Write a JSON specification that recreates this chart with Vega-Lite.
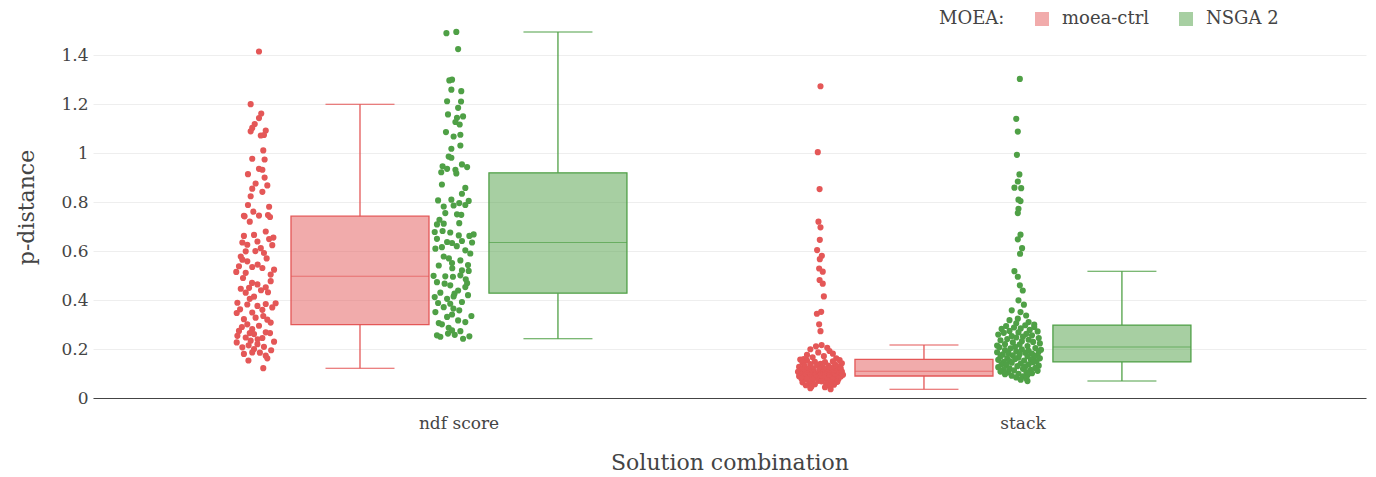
{
"$schema": "https://vega.github.io/schema/vega-lite/v6.json",
"width": 1273, "height": 382,
"autosize": {"type": "none"},
"padding": {"left": 93, "top": 16, "right": 10, "bottom": 79},
"background": "white",
"config": {"font": "DejaVu Serif", "view": {"stroke": null}, "circle": {"opacity": 1}},
"datasets": {"pts": [
{"c":"ndf score","m":"moea-ctrl","v":1.415,"j":0.11},{"c":"ndf score","m":"moea-ctrl","v":1.2,"j":-0.26},{"c":"ndf score","m":"moea-ctrl","v":1.162,"j":0.21},{"c":"ndf score","m":"moea-ctrl","v":1.143,"j":0.11},{"c":"ndf score","m":"moea-ctrl","v":1.119,"j":-0.08},{"c":"ndf score","m":"moea-ctrl","v":1.103,"j":-0.19},{"c":"ndf score","m":"moea-ctrl","v":1.089,"j":-0.26},{"c":"ndf score","m":"moea-ctrl","v":1.092,"j":0.41},{"c":"ndf score","m":"moea-ctrl","v":1.072,"j":0.19},{"c":"ndf score","m":"moea-ctrl","v":1.074,"j":0.33},
{"c":"ndf score","m":"moea-ctrl","v":1.011,"j":0.3},{"c":"ndf score","m":"moea-ctrl","v":0.977,"j":-0.19},{"c":"ndf score","m":"moea-ctrl","v":0.974,"j":0.36},{"c":"ndf score","m":"moea-ctrl","v":0.936,"j":0.11},{"c":"ndf score","m":"moea-ctrl","v":0.932,"j":0.26},{"c":"ndf score","m":"moea-ctrl","v":0.914,"j":-0.38},{"c":"ndf score","m":"moea-ctrl","v":0.9,"j":0.36},{"c":"ndf score","m":"moea-ctrl","v":0.876,"j":-0.04},{"c":"ndf score","m":"moea-ctrl","v":0.868,"j":0.48},{"c":"ndf score","m":"moea-ctrl","v":0.855,"j":-0.19},
{"c":"ndf score","m":"moea-ctrl","v":0.842,"j":0.26},{"c":"ndf score","m":"moea-ctrl","v":0.824,"j":-0.26},{"c":"ndf score","m":"moea-ctrl","v":0.788,"j":-0.38},{"c":"ndf score","m":"moea-ctrl","v":0.781,"j":0.56},{"c":"ndf score","m":"moea-ctrl","v":0.761,"j":-0.14},{"c":"ndf score","m":"moea-ctrl","v":0.747,"j":0.51},{"c":"ndf score","m":"moea-ctrl","v":0.745,"j":0.11},{"c":"ndf score","m":"moea-ctrl","v":0.744,"j":-0.56},{"c":"ndf score","m":"moea-ctrl","v":0.742,"j":-0.53},{"c":"ndf score","m":"moea-ctrl","v":0.739,"j":0.6},
{"c":"ndf score","m":"moea-ctrl","v":0.72,"j":-0.3},{"c":"ndf score","m":"moea-ctrl","v":0.68,"j":0.41},{"c":"ndf score","m":"moea-ctrl","v":0.666,"j":-0.11},{"c":"ndf score","m":"moea-ctrl","v":0.662,"j":-0.56},{"c":"ndf score","m":"moea-ctrl","v":0.655,"j":0.75},{"c":"ndf score","m":"moea-ctrl","v":0.649,"j":0.56},{"c":"ndf score","m":"moea-ctrl","v":0.639,"j":0.04},{"c":"ndf score","m":"moea-ctrl","v":0.635,"j":-0.63},{"c":"ndf score","m":"moea-ctrl","v":0.626,"j":-0.41},{"c":"ndf score","m":"moea-ctrl","v":0.624,"j":0.7},
{"c":"ndf score","m":"moea-ctrl","v":0.612,"j":0.19},{"c":"ndf score","m":"moea-ctrl","v":0.6,"j":-0.05},{"c":"ndf score","m":"moea-ctrl","v":0.599,"j":-0.48},{"c":"ndf score","m":"moea-ctrl","v":0.592,"j":0.33},{"c":"ndf score","m":"moea-ctrl","v":0.578,"j":-0.7},{"c":"ndf score","m":"moea-ctrl","v":0.57,"j":0.45},{"c":"ndf score","m":"moea-ctrl","v":0.565,"j":-0.63},{"c":"ndf score","m":"moea-ctrl","v":0.558,"j":-0.41},{"c":"ndf score","m":"moea-ctrl","v":0.545,"j":0.05},{"c":"ndf score","m":"moea-ctrl","v":0.538,"j":-0.78},
{"c":"ndf score","m":"moea-ctrl","v":0.535,"j":-0.19},{"c":"ndf score","m":"moea-ctrl","v":0.531,"j":0.26},{"c":"ndf score","m":"moea-ctrl","v":0.524,"j":0.78},{"c":"ndf score","m":"moea-ctrl","v":0.515,"j":-0.9},{"c":"ndf score","m":"moea-ctrl","v":0.511,"j":-0.48},{"c":"ndf score","m":"moea-ctrl","v":0.504,"j":0.63},{"c":"ndf score","m":"moea-ctrl","v":0.49,"j":-0.6},{"c":"ndf score","m":"moea-ctrl","v":0.477,"j":0.63},{"c":"ndf score","m":"moea-ctrl","v":0.47,"j":-0.2},{"c":"ndf score","m":"moea-ctrl","v":0.464,"j":0.04},
{"c":"ndf score","m":"moea-ctrl","v":0.452,"j":0.41},{"c":"ndf score","m":"moea-ctrl","v":0.45,"j":-0.33},{"c":"ndf score","m":"moea-ctrl","v":0.446,"j":-0.7},{"c":"ndf score","m":"moea-ctrl","v":0.44,"j":0.2},{"c":"ndf score","m":"moea-ctrl","v":0.432,"j":0.51},{"c":"ndf score","m":"moea-ctrl","v":0.43,"j":-0.48},{"c":"ndf score","m":"moea-ctrl","v":0.414,"j":-0.11},{"c":"ndf score","m":"moea-ctrl","v":0.405,"j":-0.3},{"c":"ndf score","m":"moea-ctrl","v":0.389,"j":-0.85},{"c":"ndf score","m":"moea-ctrl","v":0.387,"j":0.85},
{"c":"ndf score","m":"moea-ctrl","v":0.384,"j":0.41},{"c":"ndf score","m":"moea-ctrl","v":0.382,"j":-0.41},{"c":"ndf score","m":"moea-ctrl","v":0.376,"j":0.04},{"c":"ndf score","m":"moea-ctrl","v":0.37,"j":0.7},{"c":"ndf score","m":"moea-ctrl","v":0.362,"j":-0.73},{"c":"ndf score","m":"moea-ctrl","v":0.36,"j":0.26},{"c":"ndf score","m":"moea-ctrl","v":0.349,"j":-0.19},{"c":"ndf score","m":"moea-ctrl","v":0.347,"j":-0.88},{"c":"ndf score","m":"moea-ctrl","v":0.335,"j":0.3},{"c":"ndf score","m":"moea-ctrl","v":0.328,"j":-0.04},
{"c":"ndf score","m":"moea-ctrl","v":0.322,"j":-0.56},{"c":"ndf score","m":"moea-ctrl","v":0.32,"j":0.48},{"c":"ndf score","m":"moea-ctrl","v":0.308,"j":0.63},{"c":"ndf score","m":"moea-ctrl","v":0.301,"j":-0.41},{"c":"ndf score","m":"moea-ctrl","v":0.295,"j":0.11},{"c":"ndf score","m":"moea-ctrl","v":0.29,"j":-0.65},{"c":"ndf score","m":"moea-ctrl","v":0.281,"j":-0.19},{"c":"ndf score","m":"moea-ctrl","v":0.274,"j":-0.78},{"c":"ndf score","m":"moea-ctrl","v":0.268,"j":0.41},{"c":"ndf score","m":"moea-ctrl","v":0.265,"j":0.6},
{"c":"ndf score","m":"moea-ctrl","v":0.265,"j":-0.3},{"c":"ndf score","m":"moea-ctrl","v":0.261,"j":-0.11},{"c":"ndf score","m":"moea-ctrl","v":0.254,"j":-0.85},{"c":"ndf score","m":"moea-ctrl","v":0.247,"j":-0.48},{"c":"ndf score","m":"moea-ctrl","v":0.245,"j":0.26},{"c":"ndf score","m":"moea-ctrl","v":0.24,"j":0.05},{"c":"ndf score","m":"moea-ctrl","v":0.234,"j":-0.26},{"c":"ndf score","m":"moea-ctrl","v":0.23,"j":0.78},{"c":"ndf score","m":"moea-ctrl","v":0.227,"j":-0.88},{"c":"ndf score","m":"moea-ctrl","v":0.22,"j":0.04},
{"c":"ndf score","m":"moea-ctrl","v":0.215,"j":-0.35},{"c":"ndf score","m":"moea-ctrl","v":0.209,"j":0.33},{"c":"ndf score","m":"moea-ctrl","v":0.207,"j":-0.63},{"c":"ndf score","m":"moea-ctrl","v":0.2,"j":-0.11},{"c":"ndf score","m":"moea-ctrl","v":0.195,"j":0.65},{"c":"ndf score","m":"moea-ctrl","v":0.186,"j":-0.19},{"c":"ndf score","m":"moea-ctrl","v":0.185,"j":0.15},{"c":"ndf score","m":"moea-ctrl","v":0.18,"j":-0.56},{"c":"ndf score","m":"moea-ctrl","v":0.173,"j":0.41},{"c":"ndf score","m":"moea-ctrl","v":0.162,"j":0.48},
{"c":"ndf score","m":"moea-ctrl","v":0.153,"j":-0.36},{"c":"ndf score","m":"moea-ctrl","v":0.122,"j":0.3},
{"c":"ndf score","m":"NSGA 2","v":1.495,"j":0.08},{"c":"ndf score","m":"NSGA 2","v":1.49,"j":-0.36},{"c":"ndf score","m":"NSGA 2","v":1.425,"j":0.16},{"c":"ndf score","m":"NSGA 2","v":1.3,"j":-0.11},{"c":"ndf score","m":"NSGA 2","v":1.297,"j":-0.23},{"c":"ndf score","m":"NSGA 2","v":1.259,"j":-0.14},{"c":"ndf score","m":"NSGA 2","v":1.253,"j":0.3},{"c":"ndf score","m":"NSGA 2","v":1.212,"j":-0.33},{"c":"ndf score","m":"NSGA 2","v":1.211,"j":0.29},{"c":"ndf score","m":"NSGA 2","v":1.185,"j":0.16},
{"c":"ndf score","m":"NSGA 2","v":1.158,"j":-0.29},{"c":"ndf score","m":"NSGA 2","v":1.15,"j":0.38},{"c":"ndf score","m":"NSGA 2","v":1.144,"j":0.11},{"c":"ndf score","m":"NSGA 2","v":1.127,"j":0.04},{"c":"ndf score","m":"NSGA 2","v":1.117,"j":0.23},{"c":"ndf score","m":"NSGA 2","v":1.086,"j":-0.38},{"c":"ndf score","m":"NSGA 2","v":1.075,"j":0.26},{"c":"ndf score","m":"NSGA 2","v":1.068,"j":-0.04},{"c":"ndf score","m":"NSGA 2","v":1.031,"j":0.26},{"c":"ndf score","m":"NSGA 2","v":1.018,"j":-0.14},
{"c":"ndf score","m":"NSGA 2","v":0.986,"j":-0.26},{"c":"ndf score","m":"NSGA 2","v":0.981,"j":-0.14},{"c":"ndf score","m":"NSGA 2","v":0.954,"j":0.33},{"c":"ndf score","m":"NSGA 2","v":0.946,"j":-0.53},{"c":"ndf score","m":"NSGA 2","v":0.943,"j":0.56},{"c":"ndf score","m":"NSGA 2","v":0.936,"j":-0.33},{"c":"ndf score","m":"NSGA 2","v":0.932,"j":0.04},{"c":"ndf score","m":"NSGA 2","v":0.922,"j":-0.59},{"c":"ndf score","m":"NSGA 2","v":0.917,"j":0.08},{"c":"ndf score","m":"NSGA 2","v":0.872,"j":-0.56},
{"c":"ndf score","m":"NSGA 2","v":0.858,"j":0.48},{"c":"ndf score","m":"NSGA 2","v":0.834,"j":0.33},{"c":"ndf score","m":"NSGA 2","v":0.81,"j":-0.14},{"c":"ndf score","m":"NSGA 2","v":0.807,"j":-0.73},{"c":"ndf score","m":"NSGA 2","v":0.805,"j":0.63},{"c":"ndf score","m":"NSGA 2","v":0.796,"j":0.21},{"c":"ndf score","m":"NSGA 2","v":0.788,"j":0.48},{"c":"ndf score","m":"NSGA 2","v":0.786,"j":-0.04},{"c":"ndf score","m":"NSGA 2","v":0.782,"j":-0.48},{"c":"ndf score","m":"NSGA 2","v":0.755,"j":-0.41},
{"c":"ndf score","m":"NSGA 2","v":0.75,"j":0.11},{"c":"ndf score","m":"NSGA 2","v":0.748,"j":0.3},{"c":"ndf score","m":"NSGA 2","v":0.728,"j":-0.67},{"c":"ndf score","m":"NSGA 2","v":0.714,"j":0.21},{"c":"ndf score","m":"NSGA 2","v":0.712,"j":-0.48},{"c":"ndf score","m":"NSGA 2","v":0.709,"j":-0.78},{"c":"ndf score","m":"NSGA 2","v":0.682,"j":-0.53},{"c":"ndf score","m":"NSGA 2","v":0.678,"j":-0.88},{"c":"ndf score","m":"NSGA 2","v":0.676,"j":-0.19},{"c":"ndf score","m":"NSGA 2","v":0.668,"j":0.85},
{"c":"ndf score","m":"NSGA 2","v":0.664,"j":0.19},{"c":"ndf score","m":"NSGA 2","v":0.662,"j":0.66},{"c":"ndf score","m":"NSGA 2","v":0.65,"j":-0.78},{"c":"ndf score","m":"NSGA 2","v":0.641,"j":0.33},{"c":"ndf score","m":"NSGA 2","v":0.637,"j":-0.33},{"c":"ndf score","m":"NSGA 2","v":0.635,"j":0.78},{"c":"ndf score","m":"NSGA 2","v":0.633,"j":-0.11},{"c":"ndf score","m":"NSGA 2","v":0.62,"j":0.1},{"c":"ndf score","m":"NSGA 2","v":0.616,"j":-0.56},{"c":"ndf score","m":"NSGA 2","v":0.61,"j":-0.85},
{"c":"ndf score","m":"NSGA 2","v":0.603,"j":0.48},{"c":"ndf score","m":"NSGA 2","v":0.59,"j":0.7},{"c":"ndf score","m":"NSGA 2","v":0.578,"j":-0.48},{"c":"ndf score","m":"NSGA 2","v":0.57,"j":-0.25},{"c":"ndf score","m":"NSGA 2","v":0.562,"j":0.26},{"c":"ndf score","m":"NSGA 2","v":0.551,"j":-0.11},{"c":"ndf score","m":"NSGA 2","v":0.543,"j":0.6},{"c":"ndf score","m":"NSGA 2","v":0.541,"j":-0.7},{"c":"ndf score","m":"NSGA 2","v":0.53,"j":-0.1},{"c":"ndf score","m":"NSGA 2","v":0.521,"j":0.33},
{"c":"ndf score","m":"NSGA 2","v":0.519,"j":0.63},{"c":"ndf score","m":"NSGA 2","v":0.501,"j":0.26},{"c":"ndf score","m":"NSGA 2","v":0.499,"j":-0.93},{"c":"ndf score","m":"NSGA 2","v":0.497,"j":-0.41},{"c":"ndf score","m":"NSGA 2","v":0.495,"j":-0.07},{"c":"ndf score","m":"NSGA 2","v":0.485,"j":0.5},{"c":"ndf score","m":"NSGA 2","v":0.473,"j":-0.78},{"c":"ndf score","m":"NSGA 2","v":0.469,"j":0.56},{"c":"ndf score","m":"NSGA 2","v":0.467,"j":-0.44},{"c":"ndf score","m":"NSGA 2","v":0.46,"j":-0.19},
{"c":"ndf score","m":"NSGA 2","v":0.453,"j":0.48},{"c":"ndf score","m":"NSGA 2","v":0.426,"j":0.0},{"c":"ndf score","m":"NSGA 2","v":0.43,"j":-0.63},{"c":"ndf score","m":"NSGA 2","v":0.439,"j":0.16},{"c":"ndf score","m":"NSGA 2","v":0.42,"j":0.6},{"c":"ndf score","m":"NSGA 2","v":0.415,"j":-0.04},{"c":"ndf score","m":"NSGA 2","v":0.412,"j":-0.88},{"c":"ndf score","m":"NSGA 2","v":0.405,"j":-0.33},{"c":"ndf score","m":"NSGA 2","v":0.392,"j":0.33},{"c":"ndf score","m":"NSGA 2","v":0.388,"j":-0.73},
{"c":"ndf score","m":"NSGA 2","v":0.385,"j":-0.19},{"c":"ndf score","m":"NSGA 2","v":0.371,"j":-0.48},{"c":"ndf score","m":"NSGA 2","v":0.365,"j":-0.05},{"c":"ndf score","m":"NSGA 2","v":0.358,"j":0.21},{"c":"ndf score","m":"NSGA 2","v":0.351,"j":-0.85},{"c":"ndf score","m":"NSGA 2","v":0.341,"j":-0.11},{"c":"ndf score","m":"NSGA 2","v":0.335,"j":0.75},{"c":"ndf score","m":"NSGA 2","v":0.331,"j":-0.33},{"c":"ndf score","m":"NSGA 2","v":0.317,"j":0.16},{"c":"ndf score","m":"NSGA 2","v":0.31,"j":0.48},
{"c":"ndf score","m":"NSGA 2","v":0.306,"j":-0.7},{"c":"ndf score","m":"NSGA 2","v":0.301,"j":-0.56},{"c":"ndf score","m":"NSGA 2","v":0.287,"j":-0.26},{"c":"ndf score","m":"NSGA 2","v":0.276,"j":-0.11},{"c":"ndf score","m":"NSGA 2","v":0.273,"j":0.26},{"c":"ndf score","m":"NSGA 2","v":0.263,"j":-0.29},{"c":"ndf score","m":"NSGA 2","v":0.258,"j":0.01},{"c":"ndf score","m":"NSGA 2","v":0.256,"j":-0.78},{"c":"ndf score","m":"NSGA 2","v":0.252,"j":0.66},{"c":"ndf score","m":"NSGA 2","v":0.25,"j":-0.63},
{"c":"ndf score","m":"NSGA 2","v":0.242,"j":0.38},
{"c":"stack","m":"moea-ctrl","v":1.273,"j":0.0},{"c":"stack","m":"moea-ctrl","v":1.004,"j":-0.12},{"c":"stack","m":"moea-ctrl","v":0.853,"j":-0.04},{"c":"stack","m":"moea-ctrl","v":0.72,"j":-0.09},{"c":"stack","m":"moea-ctrl","v":0.697,"j":0.0},{"c":"stack","m":"moea-ctrl","v":0.646,"j":-0.03},{"c":"stack","m":"moea-ctrl","v":0.604,"j":-0.15},{"c":"stack","m":"moea-ctrl","v":0.581,"j":0.06},{"c":"stack","m":"moea-ctrl","v":0.567,"j":-0.03},{"c":"stack","m":"moea-ctrl","v":0.529,"j":-0.06},
{"c":"stack","m":"moea-ctrl","v":0.516,"j":0.1},{"c":"stack","m":"moea-ctrl","v":0.482,"j":-0.04},{"c":"stack","m":"moea-ctrl","v":0.467,"j":0.1},{"c":"stack","m":"moea-ctrl","v":0.415,"j":0.15},{"c":"stack","m":"moea-ctrl","v":0.352,"j":0.03},{"c":"stack","m":"moea-ctrl","v":0.344,"j":-0.16},{"c":"stack","m":"moea-ctrl","v":0.301,"j":-0.06},{"c":"stack","m":"moea-ctrl","v":0.273,"j":0.0},
{"c":"stack","m":"moea-ctrl","v":0.216,"j":0.05},{"c":"stack","m":"moea-ctrl","v":0.211,"j":-0.2},{"c":"stack","m":"moea-ctrl","v":0.205,"j":0.3},{"c":"stack","m":"moea-ctrl","v":0.199,"j":-0.45},{"c":"stack","m":"moea-ctrl","v":0.192,"j":0.4},{"c":"stack","m":"moea-ctrl","v":0.186,"j":-0.1},{"c":"stack","m":"moea-ctrl","v":0.181,"j":0.55},{"c":"stack","m":"moea-ctrl","v":0.176,"j":-0.6},{"c":"stack","m":"moea-ctrl","v":0.171,"j":0.15},{"c":"stack","m":"moea-ctrl","v":0.166,"j":-0.35},
{"c":"stack","m":"moea-ctrl","v":0.162,"j":0.7},{"c":"stack","m":"moea-ctrl","v":0.159,"j":-0.75},
{"c":"stack","m":"moea-ctrl","v":0.157,"j":-0.9},{"c":"stack","m":"moea-ctrl","v":0.155,"j":0.85},{"c":"stack","m":"moea-ctrl","v":0.153,"j":-0.6},{"c":"stack","m":"moea-ctrl","v":0.15,"j":0.55},{"c":"stack","m":"moea-ctrl","v":0.148,"j":-0.25},{"c":"stack","m":"moea-ctrl","v":0.147,"j":0.2},{"c":"stack","m":"moea-ctrl","v":0.145,"j":-0.8},{"c":"stack","m":"moea-ctrl","v":0.142,"j":0.95},{"c":"stack","m":"moea-ctrl","v":0.14,"j":0.0},{"c":"stack","m":"moea-ctrl","v":0.139,"j":-0.45},
{"c":"stack","m":"moea-ctrl","v":0.137,"j":0.65},{"c":"stack","m":"moea-ctrl","v":0.134,"j":-0.15},{"c":"stack","m":"moea-ctrl","v":0.132,"j":0.35},{"c":"stack","m":"moea-ctrl","v":0.131,"j":-0.7},{"c":"stack","m":"moea-ctrl","v":0.129,"j":0.8},{"c":"stack","m":"moea-ctrl","v":0.127,"j":-0.95},{"c":"stack","m":"moea-ctrl","v":0.125,"j":0.1},{"c":"stack","m":"moea-ctrl","v":0.124,"j":0.45},{"c":"stack","m":"moea-ctrl","v":0.122,"j":-0.35},{"c":"stack","m":"moea-ctrl","v":0.121,"j":0.9},
{"c":"stack","m":"moea-ctrl","v":0.119,"j":-0.55},{"c":"stack","m":"moea-ctrl","v":0.118,"j":0.25},{"c":"stack","m":"moea-ctrl","v":0.117,"j":-0.05},{"c":"stack","m":"moea-ctrl","v":0.116,"j":0.6},{"c":"stack","m":"moea-ctrl","v":0.115,"j":-0.85},{"c":"stack","m":"moea-ctrl","v":0.114,"j":0.4},{"c":"stack","m":"moea-ctrl","v":0.113,"j":-0.3},{"c":"stack","m":"moea-ctrl","v":0.112,"j":0.75},{"c":"stack","m":"moea-ctrl","v":0.111,"j":-0.65},{"c":"stack","m":"moea-ctrl","v":0.11,"j":0.15},
{"c":"stack","m":"moea-ctrl","v":0.108,"j":0.95},{"c":"stack","m":"moea-ctrl","v":0.107,"j":-1.0},{"c":"stack","m":"moea-ctrl","v":0.107,"j":0.7},{"c":"stack","m":"moea-ctrl","v":0.106,"j":-0.75},{"c":"stack","m":"moea-ctrl","v":0.105,"j":0.5},{"c":"stack","m":"moea-ctrl","v":0.105,"j":-0.5},{"c":"stack","m":"moea-ctrl","v":0.104,"j":0.3},{"c":"stack","m":"moea-ctrl","v":0.103,"j":-0.3},{"c":"stack","m":"moea-ctrl","v":0.103,"j":0.1},{"c":"stack","m":"moea-ctrl","v":0.102,"j":-0.1},
{"c":"stack","m":"moea-ctrl","v":0.101,"j":0.85},{"c":"stack","m":"moea-ctrl","v":0.1,"j":-0.9},{"c":"stack","m":"moea-ctrl","v":0.1,"j":0.6},{"c":"stack","m":"moea-ctrl","v":0.099,"j":-0.6},{"c":"stack","m":"moea-ctrl","v":0.099,"j":0.4},{"c":"stack","m":"moea-ctrl","v":0.098,"j":-0.4},{"c":"stack","m":"moea-ctrl","v":0.097,"j":0.2},{"c":"stack","m":"moea-ctrl","v":0.097,"j":-0.2},{"c":"stack","m":"moea-ctrl","v":0.096,"j":0.0},{"c":"stack","m":"moea-ctrl","v":0.095,"j":1.0},
{"c":"stack","m":"moea-ctrl","v":0.095,"j":-0.85},{"c":"stack","m":"moea-ctrl","v":0.094,"j":0.75},{"c":"stack","m":"moea-ctrl","v":0.094,"j":-0.7},{"c":"stack","m":"moea-ctrl","v":0.093,"j":0.55},{"c":"stack","m":"moea-ctrl","v":0.093,"j":-0.45},{"c":"stack","m":"moea-ctrl","v":0.092,"j":0.35},{"c":"stack","m":"moea-ctrl","v":0.092,"j":-0.25},{"c":"stack","m":"moea-ctrl","v":0.091,"j":0.15},{"c":"stack","m":"moea-ctrl","v":0.091,"j":-0.05},{"c":"stack","m":"moea-ctrl","v":0.09,"j":0.9},
{"c":"stack","m":"moea-ctrl","v":0.089,"j":-0.95},{"c":"stack","m":"moea-ctrl","v":0.088,"j":0.9},{"c":"stack","m":"moea-ctrl","v":0.087,"j":-0.7},{"c":"stack","m":"moea-ctrl","v":0.086,"j":0.65},{"c":"stack","m":"moea-ctrl","v":0.085,"j":-0.45},{"c":"stack","m":"moea-ctrl","v":0.084,"j":0.4},{"c":"stack","m":"moea-ctrl","v":0.083,"j":-0.2},{"c":"stack","m":"moea-ctrl","v":0.082,"j":0.15},{"c":"stack","m":"moea-ctrl","v":0.081,"j":0.0},{"c":"stack","m":"moea-ctrl","v":0.08,"j":-0.85},
{"c":"stack","m":"moea-ctrl","v":0.078,"j":0.8},{"c":"stack","m":"moea-ctrl","v":0.077,"j":-0.6},{"c":"stack","m":"moea-ctrl","v":0.075,"j":0.55},{"c":"stack","m":"moea-ctrl","v":0.074,"j":-0.35},{"c":"stack","m":"moea-ctrl","v":0.072,"j":0.3},{"c":"stack","m":"moea-ctrl","v":0.07,"j":-0.1},{"c":"stack","m":"moea-ctrl","v":0.068,"j":0.05},{"c":"stack","m":"moea-ctrl","v":0.066,"j":0.75},{"c":"stack","m":"moea-ctrl","v":0.064,"j":-0.8},{"c":"stack","m":"moea-ctrl","v":0.062,"j":0.5},
{"c":"stack","m":"moea-ctrl","v":0.06,"j":-0.5},{"c":"stack","m":"moea-ctrl","v":0.058,"j":0.25},{"c":"stack","m":"moea-ctrl","v":0.056,"j":-0.25},{"c":"stack","m":"moea-ctrl","v":0.054,"j":0.6},{"c":"stack","m":"moea-ctrl","v":0.052,"j":-0.65},{"c":"stack","m":"moea-ctrl","v":0.05,"j":0.45},{"c":"stack","m":"moea-ctrl","v":0.047,"j":-0.4},{"c":"stack","m":"moea-ctrl","v":0.044,"j":0.2},{"c":"stack","m":"moea-ctrl","v":0.04,"j":-0.45},{"c":"stack","m":"moea-ctrl","v":0.036,"j":0.45},
{"c":"stack","m":"NSGA 2","v":1.303,"j":0.06},{"c":"stack","m":"NSGA 2","v":1.14,"j":-0.1},{"c":"stack","m":"NSGA 2","v":1.088,"j":-0.03},{"c":"stack","m":"NSGA 2","v":0.993,"j":-0.07},{"c":"stack","m":"NSGA 2","v":0.913,"j":0.04},{"c":"stack","m":"NSGA 2","v":0.884,"j":-0.03},{"c":"stack","m":"NSGA 2","v":0.859,"j":-0.18},{"c":"stack","m":"NSGA 2","v":0.857,"j":0.12},{"c":"stack","m":"NSGA 2","v":0.81,"j":0.0},{"c":"stack","m":"NSGA 2","v":0.804,"j":0.09},
{"c":"stack","m":"NSGA 2","v":0.773,"j":0.0},{"c":"stack","m":"NSGA 2","v":0.755,"j":-0.03},{"c":"stack","m":"NSGA 2","v":0.667,"j":0.09},{"c":"stack","m":"NSGA 2","v":0.648,"j":-0.03},{"c":"stack","m":"NSGA 2","v":0.612,"j":0.16},{"c":"stack","m":"NSGA 2","v":0.589,"j":0.07},{"c":"stack","m":"NSGA 2","v":0.518,"j":-0.18},{"c":"stack","m":"NSGA 2","v":0.495,"j":-0.03},{"c":"stack","m":"NSGA 2","v":0.46,"j":0.06},{"c":"stack","m":"NSGA 2","v":0.439,"j":0.19},
{"c":"stack","m":"NSGA 2","v":0.399,"j":0.0},{"c":"stack","m":"NSGA 2","v":0.381,"j":0.24},{"c":"stack","m":"NSGA 2","v":0.358,"j":-0.3},{"c":"stack","m":"NSGA 2","v":0.351,"j":0.09},{"c":"stack","m":"NSGA 2","v":0.337,"j":0.34},{"c":"stack","m":"NSGA 2","v":0.324,"j":-0.03},{"c":"stack","m":"NSGA 2","v":0.318,"j":-0.4},{"c":"stack","m":"NSGA 2","v":0.31,"j":0.45},{"c":"stack","m":"NSGA 2","v":0.305,"j":-0.1},{"c":"stack","m":"NSGA 2","v":0.3,"j":0.7},
{"c":"stack","m":"NSGA 2","v":0.297,"j":0.3},{"c":"stack","m":"NSGA 2","v":0.294,"j":-0.55},{"c":"stack","m":"NSGA 2","v":0.29,"j":0.7},{"c":"stack","m":"NSGA 2","v":0.288,"j":-0.2},{"c":"stack","m":"NSGA 2","v":0.284,"j":0.1},{"c":"stack","m":"NSGA 2","v":0.282,"j":-0.75},{"c":"stack","m":"NSGA 2","v":0.278,"j":0.5},{"c":"stack","m":"NSGA 2","v":0.274,"j":-0.4},{"c":"stack","m":"NSGA 2","v":0.272,"j":0.85},{"c":"stack","m":"NSGA 2","v":0.268,"j":0.0},
{"c":"stack","m":"NSGA 2","v":0.266,"j":-0.65},{"c":"stack","m":"NSGA 2","v":0.262,"j":0.35},{"c":"stack","m":"NSGA 2","v":0.259,"j":-0.9},{"c":"stack","m":"NSGA 2","v":0.256,"j":0.6},{"c":"stack","m":"NSGA 2","v":0.253,"j":-0.3},{"c":"stack","m":"NSGA 2","v":0.251,"j":0.2},{"c":"stack","m":"NSGA 2","v":0.247,"j":-0.1},{"c":"stack","m":"NSGA 2","v":0.245,"j":0.9},{"c":"stack","m":"NSGA 2","v":0.241,"j":-0.5},{"c":"stack","m":"NSGA 2","v":0.238,"j":0.45},
{"c":"stack","m":"NSGA 2","v":0.236,"j":-0.8},{"c":"stack","m":"NSGA 2","v":0.232,"j":0.15},{"c":"stack","m":"NSGA 2","v":0.229,"j":0.65},{"c":"stack","m":"NSGA 2","v":0.227,"j":-0.25},{"c":"stack","m":"NSGA 2","v":0.223,"j":0.95},{"c":"stack","m":"NSGA 2","v":0.22,"j":-0.6},{"c":"stack","m":"NSGA 2","v":0.218,"j":0.05},{"c":"stack","m":"NSGA 2","v":0.214,"j":-0.95},{"c":"stack","m":"NSGA 2","v":0.212,"j":0.4},{"c":"stack","m":"NSGA 2","v":0.209,"j":-0.15},
{"c":"stack","m":"NSGA 2","v":0.207,"j":-0.85},{"c":"stack","m":"NSGA 2","v":0.204,"j":0.75},{"c":"stack","m":"NSGA 2","v":0.203,"j":-0.35},{"c":"stack","m":"NSGA 2","v":0.199,"j":0.15},{"c":"stack","m":"NSGA 2","v":0.197,"j":1.0},{"c":"stack","m":"NSGA 2","v":0.196,"j":-0.6},{"c":"stack","m":"NSGA 2","v":0.193,"j":0.45},{"c":"stack","m":"NSGA 2","v":0.191,"j":-0.1},{"c":"stack","m":"NSGA 2","v":0.19,"j":0.9},{"c":"stack","m":"NSGA 2","v":0.187,"j":-0.95},
{"c":"stack","m":"NSGA 2","v":0.185,"j":0.3},{"c":"stack","m":"NSGA 2","v":0.184,"j":-0.45},{"c":"stack","m":"NSGA 2","v":0.181,"j":0.6},{"c":"stack","m":"NSGA 2","v":0.179,"j":0.05},{"c":"stack","m":"NSGA 2","v":0.178,"j":-0.7},{"c":"stack","m":"NSGA 2","v":0.175,"j":0.85},{"c":"stack","m":"NSGA 2","v":0.174,"j":-0.25},{"c":"stack","m":"NSGA 2","v":0.171,"j":0.4},{"c":"stack","m":"NSGA 2","v":0.169,"j":-0.8},{"c":"stack","m":"NSGA 2","v":0.168,"j":0.7},
{"c":"stack","m":"NSGA 2","v":0.165,"j":0.0},{"c":"stack","m":"NSGA 2","v":0.163,"j":-0.5},{"c":"stack","m":"NSGA 2","v":0.162,"j":0.95},{"c":"stack","m":"NSGA 2","v":0.159,"j":-0.15},{"c":"stack","m":"NSGA 2","v":0.157,"j":0.55},{"c":"stack","m":"NSGA 2","v":0.156,"j":-0.9},{"c":"stack","m":"NSGA 2","v":0.153,"j":0.25},{"c":"stack","m":"NSGA 2","v":0.151,"j":-0.4},{"c":"stack","m":"NSGA 2","v":0.15,"j":0.8},{"c":"stack","m":"NSGA 2","v":0.148,"j":-0.65},
{"c":"stack","m":"NSGA 2","v":0.146,"j":0.65},{"c":"stack","m":"NSGA 2","v":0.144,"j":-0.3},{"c":"stack","m":"NSGA 2","v":0.141,"j":0.1},{"c":"stack","m":"NSGA 2","v":0.139,"j":-0.75},{"c":"stack","m":"NSGA 2","v":0.137,"j":0.45},{"c":"stack","m":"NSGA 2","v":0.135,"j":-0.55},{"c":"stack","m":"NSGA 2","v":0.132,"j":0.9},{"c":"stack","m":"NSGA 2","v":0.13,"j":-0.05},{"c":"stack","m":"NSGA 2","v":0.128,"j":0.3},{"c":"stack","m":"NSGA 2","v":0.126,"j":-0.9},
{"c":"stack","m":"NSGA 2","v":0.123,"j":0.75},{"c":"stack","m":"NSGA 2","v":0.121,"j":-0.4},{"c":"stack","m":"NSGA 2","v":0.119,"j":0.2},{"c":"stack","m":"NSGA 2","v":0.117,"j":-0.65},{"c":"stack","m":"NSGA 2","v":0.115,"j":0.55},{"c":"stack","m":"NSGA 2","v":0.113,"j":-0.2},{"c":"stack","m":"NSGA 2","v":0.111,"j":0.85},{"c":"stack","m":"NSGA 2","v":0.108,"j":-0.8},{"c":"stack","m":"NSGA 2","v":0.106,"j":0.35},{"c":"stack","m":"NSGA 2","v":0.104,"j":-0.45},
{"c":"stack","m":"NSGA 2","v":0.101,"j":0.6},{"c":"stack","m":"NSGA 2","v":0.099,"j":0.0},{"c":"stack","m":"NSGA 2","v":0.097,"j":-0.6},{"c":"stack","m":"NSGA 2","v":0.094,"j":0.4},{"c":"stack","m":"NSGA 2","v":0.091,"j":-0.3},{"c":"stack","m":"NSGA 2","v":0.088,"j":0.2},{"c":"stack","m":"NSGA 2","v":0.084,"j":-0.1},{"c":"stack","m":"NSGA 2","v":0.08,"j":0.35},{"c":"stack","m":"NSGA 2","v":0.075,"j":0.1},{"c":"stack","m":"NSGA 2","v":0.069,"j":0.4}
]},
"data": {"name": "pts"},
"encoding": {
  "x": {"field": "c", "type": "nominal", "title": "Solution combination", "sort": ["ndf score", "stack"],
    "scale": {"paddingInner": 0.298, "paddingOuter": 0.2776, "align": 0.5366},
    "axis": {"labelAngle": 0, "ticks": false, "grid": false, "domainColor": "#444", "domainWidth": 1.2, "labelFontSize": 17, "labelColor": "#444", "labelPadding": 17, "titleFontSize": 22, "titleFontWeight": "normal", "titleColor": "#444", "titleY": 64, "titleBaseline": "middle"}},
  "y": {"field": "v", "type": "quantitative", "title": "p-distance",
    "scale": {"domain": [0, 1.56], "nice": false},
    "axis": {"values": [0, 0.2, 0.4, 0.6, 0.8, 1, 1.2, 1.4], "format": "~g", "grid": true, "gridColor": "#eeeeee", "gridWidth": 1, "domain": false, "ticks": false, "labelFontSize": 17, "labelColor": "#444", "labelPadding": 5, "titleFontSize": 22, "titleFontWeight": "normal", "titleColor": "#444", "titleX": -67, "titleBaseline": "middle"}}
},
"layer": [
  {"transform": [{"filter": "datum.m === 'moea-ctrl'"}],
   "mark": {"type": "boxplot", "extent": 1.5, "size": 138, "outliers": false,
     "box": {"fill": "#E45757", "fillOpacity": 0.5, "stroke": "#E45757", "strokeWidth": 1.3},
     "median": {"color": "#E45757", "strokeWidth": 1.3},
     "rule": {"color": "#E45757", "strokeWidth": 1.3},
     "ticks": {"color": "#E45757", "size": 69, "strokeWidth": 1.3}},
   "encoding": {"xOffset": {"field": "m", "type": "nominal", "scale": {"domain": ["moea-ctrl", "NSGA 2"], "paddingInner": 0, "paddingOuter": 0}}}},
  {"transform": [{"filter": "datum.m === 'NSGA 2'"}],
   "mark": {"type": "boxplot", "extent": 1.5, "size": 138, "outliers": false,
     "box": {"fill": "#4FA046", "fillOpacity": 0.5, "stroke": "#4FA046", "strokeWidth": 1.3},
     "median": {"color": "#4FA046", "strokeWidth": 1.3},
     "rule": {"color": "#4FA046", "strokeWidth": 1.3},
     "ticks": {"color": "#4FA046", "size": 69, "strokeWidth": 1.3}},
   "encoding": {"xOffset": {"field": "m", "type": "nominal", "scale": {"domain": ["moea-ctrl", "NSGA 2"], "paddingInner": 0, "paddingOuter": 0}}}},
  {"transform": [{"filter": "datum.m === 'moea-ctrl'"}],
   "mark": {"type": "circle", "size": 38},
   "encoding": {
     "xOffset": {"field": "j", "type": "quantitative", "scale": {"domain": [-1, 1], "range": [-27, 18]}},
     "color": {"field": "m", "type": "nominal", "scale": {"domain": ["moea-ctrl", "NSGA 2"], "range": ["#E45757", "#4FA046"]},
       "legend": {"title": "MOEA:", "orient": "none", "legendX": 846, "legendY": -6, "direction": "horizontal", "titleOrient": "left", "symbolType": "square", "symbolSize": 196, "symbolOpacity": 0.5, "titleFontSize": 18, "titleFontWeight": "normal", "titleColor": "#444", "labelFontSize": 18, "labelColor": "#444", "labelOffset": 11, "columnPadding": 27, "titlePadding": 28}}}},
  {"transform": [{"filter": "datum.m === 'NSGA 2'"}],
   "mark": {"type": "circle", "size": 38},
   "encoding": {
     "xOffset": {"field": "j", "type": "quantitative", "scale": {"domain": [-1, 1], "range": [171, 216]}},
     "color": {"field": "m", "type": "nominal"}}}
],
"resolve": {"scale": {"xOffset": "independent"}}
}
